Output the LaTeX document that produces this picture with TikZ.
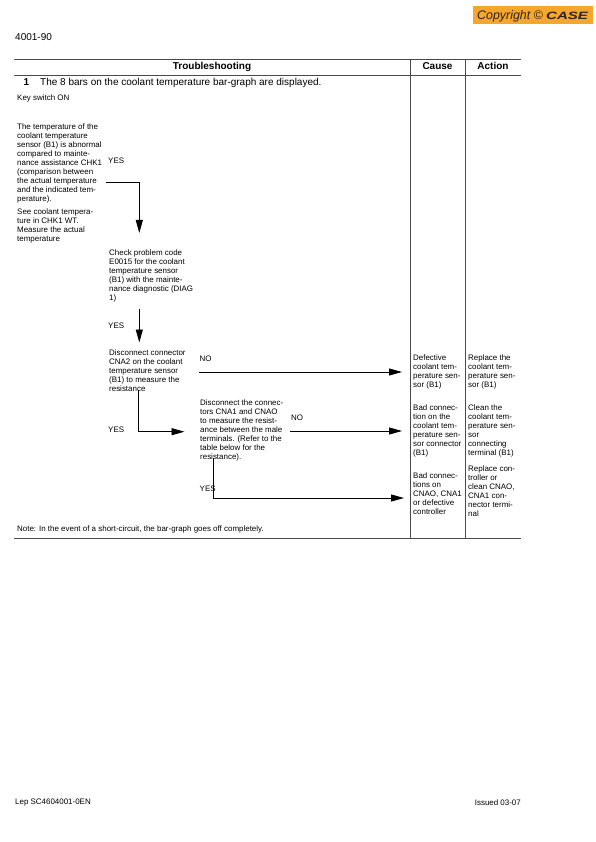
\documentclass[tikz,border=0pt]{standalone}
\usepackage{fontspec}
\usepackage{graphicx}
\setmainfont{Liberation Sans}
\usetikzlibrary{arrows.meta,positioning}
\definecolor{CaseOrange}{HTML}{F4A72C}
\definecolor{CaseInk}{HTML}{2A2420}
\definecolor{RuleGrey}{HTML}{4A4A4A}

\begin{document}
\begin{tikzpicture}[
  x=1pt,y=-1pt,
  txt/.style={anchor=north west,inner sep=0pt,align=left,font=\fontsize{7.95}{9}\selectfont,execute at begin node=\strut},
  cell/.style={txt,inner xsep=11pt},
  title/.style={anchor=west,inner sep=0pt,font=\fontsize{10}{12}\selectfont},
  boldtitle/.style={title,anchor=base,font=\fontsize{10}{12}\selectfont\bfseries},
  small/.style={anchor=west,inner sep=0pt,font=\fontsize{7.95}{9}\selectfont},
  rule/.style={draw=RuleGrey,line width=0.7pt},
  flow/.style={draw=black,line width=0.9pt,-{Triangle[length=13pt,width=7pt]}}
]
\useasboundingbox (0,0) rectangle (595,842);

% copyright tab
\node[fill=CaseOrange,minimum width=120pt,minimum height=18pt,inner sep=0pt] (tab) at (533,15) {};
\node[anchor=west,inner sep=0pt,text=CaseInk,font=\fontsize{12.4}{14}\selectfont\itshape] (copy) at (477,15.8) {Copyright ©};
\node[anchor=west,inner sep=0pt,text=CaseInk,font=\fontsize{10.6}{12}\selectfont\bfseries\itshape] (brand) at (546,15.8) {\scalebox{1.42}[1]{CASE}};

\node[title] (page) at (15,37) {4001-90};

% table
\draw[rule] (14,59.5) -- (521,59.5);
\draw[rule] (14,75.5) -- (521,75.5);
\draw[rule] (14,538) -- (521,538);
\draw[rule] (410,59.5) -- (410,538);
\draw[rule] (465,59.5) -- (465,538);

\node[boldtitle] (head) at (212,69.5) {Troubleshooting};
\node[boldtitle] (headcause) at (437.5,69.5) {Cause};
\node[boldtitle] (headaction) at (493,69.5) {Action};
\node[title,font=\fontsize{10}{12}\selectfont\bfseries] (num) at (23.5,82.5) {1};
\node[title] (symptom) at (40,83) {The 8 bars on the coolant temperature bar-graph are displayed.};
\node[small] (key) at (17,98) {Key switch ON};

% steps
\node[txt] (temp) at (17,124) {The temperature of the\\coolant temperature\\sensor (B1) is abnormal\\compared to mainte-\\nance assistance CHK1\\(comparison between\\the actual temperature\\and the indicated tem-\\perature).};
\node[txt] (see) at (17,209) {See coolant tempera-\\ture in CHK1 WT.\\Measure the actual\\temperature};
\node[txt] (check) at (109,250) {Check problem code\\E0015 for the coolant\\temperature sensor\\(B1) with the mainte-\\nance diagnostic (DIAG\\1)};
\node[txt] (cnatwo) at (109,350) {Disconnect connector\\CNA2 on the coolant\\temperature sensor\\(B1) to measure the\\resistance};
\node[txt] (cnaone) at (200,400) {Disconnect the connec-\\tors CNA1 and CNAO\\to measure the resist-\\ance between the male\\terminals. (Refer to the\\table below for the\\resistance).};

\node[small] (yesa) at (108,161) {YES};
\node[small] (yesb) at (108,326) {YES};
\node[small] (yesc) at (108,430) {YES};
\node[small] (yesd) at (199.5,489) {YES};
\node[small] (noa) at (199.5,359) {NO};
\node[small] (nob) at (291,418) {NO};

% cause and action
\node[cell] (defect) at (402,355) {Defective\\coolant tem-\\perature sen-\\sor (B1)};
\node[cell] (badconn) at (402,405) {Bad connec-\\tion on the\\coolant tem-\\perature sen-\\sor connector\\(B1)};
\node[cell] (badctrl) at (402,473) {Bad connec-\\tions on\\CNAO, CNA1\\or defective\\controller};
\node[txt] (replace) at (468,355) {Replace the\\coolant tem-\\perature sen-\\sor (B1)};
\node[txt] (clean) at (468,405) {Clean the\\coolant tem-\\perature sen-\\sor\\connecting\\terminal (B1)};
\node[txt] (renew) at (468,466) {Replace con-\\troller or\\clean CNAO,\\CNA1 con-\\nector termi-\\nal};

\node[small] (note) at (17,529.5) {Note: In the event of a short-circuit, the bar-graph goes off completely.};
\node[small] (lep) at (15,803) {Lep SC4604001-0EN};
\node[small,anchor=east] (issued) at (521,803) {Issued 03-07};

% connectors
\coordinate (outa) at (105.5,182);
\coordinate (ina) at (139.3,233);
\coordinate (outb) at (139.3,309);
\coordinate (inb) at (139.3,342.5);
\coordinate (outc) at (138.5,390);
\coordinate (inc) at (184.5,431.7);
\coordinate (outd) at (199,372);
\coordinate (oute) at (290,431);
\coordinate (outf) at (213.7,458);
\coordinate (inf) at (404,498);

\draw[flow] (outa) -| (ina);
\draw[flow] (outb) -- (inb);
\draw[flow] (outc) |- (inc);
\draw[flow] (outd) -- (outd -| defect.west);
\draw[flow] (oute) -- (oute -| badconn.west);
\draw[flow] (outf) |- (inf);
\end{tikzpicture}
\end{document}
